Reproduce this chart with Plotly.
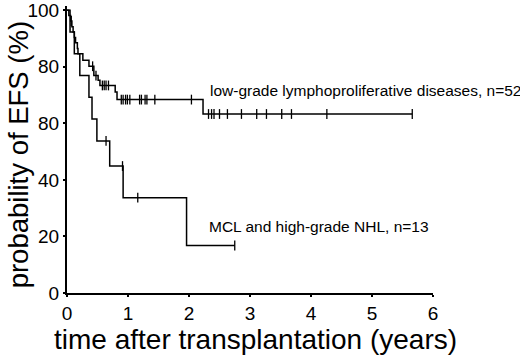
import numpy as np
import plotly.graph_objects as go

# ---- data ----
low_t = [0.0, 0.03, 0.06, 0.08, 0.10, 0.12, 0.14, 0.17, 0.18, 0.26, 0.36, 0.44, 0.51, 0.54, 0.79, 0.82, 2.23, 5.66]
low_s = [100, 98.1, 96.2, 94.2, 92.3, 90.4, 88.5, 86.5, 84.6, 82.3, 80.2, 76.9, 75.2, 73.4, 71.1, 68.4, 63.3, 63.3]
low_cens = [0.07, 0.42, 0.475, 0.58, 0.61, 0.64, 0.68, 0.89, 0.92, 0.96, 0.99, 1.03, 1.19, 1.22,
            1.28, 1.31, 1.44, 2.04, 2.32, 2.37, 2.41, 2.50, 2.63, 2.86, 3.11, 3.27, 3.52, 3.68, 4.26, 5.66]

mcl_t = [0.0, 0.05, 0.12, 0.21, 0.36, 0.41, 0.49, 0.70, 0.92, 1.96, 2.75]
mcl_s = [100, 92.3, 84.6, 76.9, 69.2, 61.5, 53.8, 44.9, 33.7, 16.8, 16.8]
mcl_cens = [0.64, 0.91, 1.16, 2.75]

y_tickvals = [0, 20, 40, 60, 80, 100]
y_ticktext = ["0", "20", "40", "80", "80", "100"]
x_tickvals = [0, 1, 2, 3, 4, 5, 6]

label_low = "low-grade lymphoproliferative diseases, n=52"
label_mcl = "MCL and high-grade NHL, n=13"


def step_at(t_arr, s_arr, tc):
    idx = np.searchsorted(np.array(t_arr), np.array(tc), side="right") - 1
    return list(np.array(s_arr)[idx])


FONT = "Liberation Sans, Arial, sans-serif"
fig = go.Figure()
for t, s, c in [(low_t, low_s, low_cens), (mcl_t, mcl_s, mcl_cens)]:
    fig.add_trace(go.Scatter(x=t, y=s, mode="lines", line=dict(color="black", width=1.5, shape="hv"),
                             showlegend=False, hoverinfo="skip"))
    fig.add_trace(go.Scatter(x=c, y=step_at(t, s, c), mode="markers",
                             marker=dict(symbol="line-ns-open", size=7, color="black",
                                         line=dict(color="black", width=1.3)),
                             showlegend=False, hoverinfo="skip", cliponaxis=False))

axis_common = dict(showgrid=False, zeroline=False, showline=True, linecolor="black", linewidth=2,
                   ticks="outside", ticklen=2, tickwidth=2, tickcolor="black",
                   tickfont=dict(size=19, family=FONT), automargin=False, ticklabeloverflow="allow")

fig.update_layout(
    width=520, height=355,
    margin=dict(l=67, r=87, t=6, b=62),
    paper_bgcolor="white", plot_bgcolor="white",
    font=dict(family=FONT, color="black"),
    xaxis=dict(range=[0, 6], tickvals=x_tickvals, **axis_common),
    yaxis=dict(range=[0, 101.5], tickvals=y_tickvals, ticktext=y_ticktext, **axis_common),
    annotations=[
        dict(text=label_low, x=2.31, y=71.6, xref="x", yref="y", xanchor="left", yanchor="middle",
             showarrow=False, font=dict(size=15.5, family=FONT)),
        dict(text=label_mcl, x=2.295, y=23.5, xref="x", yref="y", xanchor="left", yanchor="middle",
             showarrow=False, font=dict(size=15.5, family=FONT)),
        dict(text="time after transplantation (years)", x=0.516, y=-0.162, xref="paper", yref="paper",
             xanchor="center", yanchor="middle", showarrow=False, font=dict(size=28, family=FONT)),
        dict(text="probability of EFS (%)", x=-0.134, y=0.483, xref="paper", yref="paper",
             xanchor="center", yanchor="middle", textangle=-90, showarrow=False,
             font=dict(size=27.5, family=FONT)),
    ],
)

fig.write_html("out.html", config={"displayModeBar": False},
               post_script="document.body.style.margin='0';document.body.style.overflow='hidden';")
